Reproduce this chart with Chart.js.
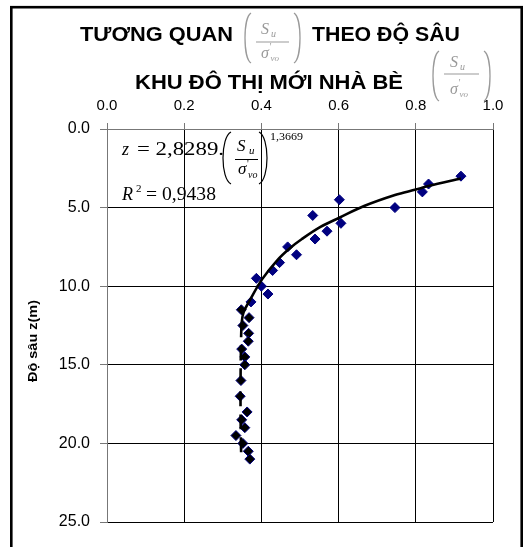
<!DOCTYPE html>
<html><head><meta charset="utf-8">
<script src="https://cdn.jsdelivr.net/npm/chart.js@4/dist/chart.umd.min.js"></script>
<style>html,body{margin:0;padding:0;background:#fff;}canvas{display:block;}</style>
</head><body>
<canvas id="c" width="525" height="547"></canvas>
<script>
// ---- data ----
const depths = [3.0,3.5,4.0,4.5,5.0,5.5,6.0,6.5,7.0,7.5,8.0,8.5,9.0,9.5,10.0,10.5,11.0,11.5,12.0,12.5,13.0,13.5,14.0,14.5,15.0,16.0,17.0,18.0,18.5,19.0,19.5,20.0,20.5,21.0];
const ratios = [0.917,0.833,0.817,0.602,0.746,0.533,0.606,0.570,0.539,0.468,0.491,0.447,0.429,0.387,0.400,0.417,0.373,0.348,0.368,0.352,0.367,0.366,0.349,0.357,0.357,0.347,0.345,0.363,0.349,0.357,0.334,0.352,0.366,0.370];
const trendDepths = [3.15,3.63,3.85,4.2,4.9,5.63,6.23,7.0,7.6,8.35,9.55,10.85,11.65,12.3,14.0,16.0,18.0,20.0,21.0];
const trendRatios = [0.917,0.833,0.800,0.746,0.666,0.603,0.553,0.505,0.473,0.441,0.402,0.371,0.354,0.349,0.347,0.346,0.346,0.347,0.348];
const xTicks = [0.0,0.2,0.4,0.6,0.8,1.0];
const yTicks = [0,5,10,15,20,25];
const titleA = 'TƯƠNG QUAN';
const titleB = 'THEO ĐỘ SÂU';
const titleC = 'KHU ĐÔ THỊ MỚI NHÀ BÈ';
const yAxisTitle = 'Độ sâu z(m)';
const eqCoef = '2,8289';
const eqExp = '1,3669';
const eqR2 = '0,9438';

const SANS = '"Liberation Sans", Arial, sans-serif';
const SERIF = '"Liberation Serif", "Times New Roman", serif';

function fitText(ctx, text, x, y, w, font, color) {
  ctx.save();
  ctx.font = font; ctx.fillStyle = color;
  ctx.textAlign = 'left'; ctx.textBaseline = 'alphabetic';
  const m = ctx.measureText(text).width;
  ctx.translate(x, y);
  if (w) ctx.scale(w / m, 1);
  ctx.fillText(text, 0, 0);
  ctx.restore();
}
function paren(ctx, x1, x2, top, bot, isLeft, color, lw) {
  ctx.save();
  ctx.strokeStyle = color; ctx.lineWidth = lw; ctx.beginPath();
  const h = bot - top;
  if (isLeft) {
    const c = (x1 - 0.25 * x2) / 0.75;
    ctx.moveTo(x2, top);
    ctx.bezierCurveTo(c, top + h * 0.1, c, bot - h * 0.1, x2, bot);
  } else {
    const c = (x2 - 0.25 * x1) / 0.75;
    ctx.moveTo(x1, top);
    ctx.bezierCurveTo(c, top + h * 0.1, c, bot - h * 0.1, x1, bot);
  }
  ctx.stroke(); ctx.restore();
}
function hline(ctx, x1, x2, y, color, lw) {
  ctx.save(); ctx.strokeStyle = color; ctx.lineWidth = lw;
  ctx.beginPath(); ctx.moveTo(x1, y); ctx.lineTo(x2, y); ctx.stroke(); ctx.restore();
}
function ratioFrac(ctx, o, color) {
  paren(ctx, o.l, o.l + 6, o.top, o.bot, true, color, 1.3);
  paren(ctx, o.r - 6, o.r, o.top, o.bot, false, color, 1.3);
  fitText(ctx, 'S', o.sx, o.sy, 0, 'italic ' + o.size + 'px ' + SERIF, color);
  fitText(ctx, 'u', o.sx + o.size * 0.62, o.sy + 3, 0, 'italic ' + Math.round(o.size * 0.6) + 'px ' + SERIF, color);
  hline(ctx, o.l + 11, o.r - 11, o.lineY, color, 1.2);
  fitText(ctx, 'σ', o.gx, o.gy, 0, 'italic ' + o.size + 'px ' + SERIF, color);
  fitText(ctx, "'", o.gx + o.size * 0.55, o.gy - 8, 0, Math.round(o.size * 0.6) + 'px ' + SERIF, color);
  fitText(ctx, 'vo', o.gx + o.size * 0.6, o.gy + 3, 0, 'italic ' + Math.round(o.size * 0.55) + 'px ' + SERIF, color);
}

const decor = {
  id: 'decor',
  beforeDraw(chart) {
    const ctx = chart.ctx;
    ctx.save(); ctx.fillStyle = '#fff'; ctx.fillRect(0, 0, chart.width, chart.height); ctx.restore();
  },
  afterDraw(chart) {
    const ctx = chart.ctx;
    const tf = 'bold 20px ' + SANS;
    fitText(ctx, titleA, 80, 40.5, 153, tf, '#000');
    fitText(ctx, titleB, 312, 40.5, 148, tf, '#000');
    fitText(ctx, titleC, 135, 89, 268, tf, '#000');
    const gray = '#9a9a9a';
    ratioFrac(ctx, {l:245, r:300, top:13, bot:63, sx:261, sy:34, lineY:42, gx:261, gy:58, size:16}, gray);
    ratioFrac(ctx, {l:433, r:490, top:51, bot:101, sx:450, sy:67, lineY:74, gx:450, gy:94, size:16}, gray);

    ctx.save();
    ctx.font = 'bold 13px ' + SANS; ctx.fillStyle = '#000';
    ctx.textAlign = 'center'; ctx.textBaseline = 'middle';
    const m = ctx.measureText(yAxisTitle).width;
    ctx.translate(33, 341); ctx.rotate(-Math.PI / 2); ctx.scale(82 / m, 1);
    ctx.fillText(yAxisTitle, 0, 0);
    ctx.restore();

    fitText(ctx, 'z', 122, 155, 0, 'italic 18px ' + SERIF, '#000');
    fitText(ctx, '= ' + eqCoef + '.', 137, 155, 87, '18px ' + SERIF, '#000');
    paren(ctx, 223, 231, 132, 184, true, '#000', 1.2);
    paren(ctx, 259, 267, 132, 184, false, '#000', 1.2);
    fitText(ctx, 'S', 237, 151, 0, 'italic 17px ' + SERIF, '#000');
    fitText(ctx, 'u', 249, 154, 0, 'italic 11px ' + SERIF, '#000');
    hline(ctx, 235, 258, 159.5, '#000', 1);
    fitText(ctx, 'σ', 238, 174, 0, 'italic 17px ' + SERIF, '#000');
    fitText(ctx, "'", 247, 167, 0, '10px ' + SERIF, '#000');
    fitText(ctx, 'vo', 248, 178, 0, 'italic 10px ' + SERIF, '#000');
    fitText(ctx, eqExp, 270, 140, 33, '11px ' + SERIF, '#000');
    fitText(ctx, 'R', 122, 200, 0, 'italic 18px ' + SERIF, '#000');
    fitText(ctx, '2', 136, 192, 0, '11px ' + SERIF, '#000');
    fitText(ctx, '= ' + eqR2, 146, 200, 70, '18px ' + SERIF, '#000');

    ctx.save(); ctx.strokeStyle = '#000'; ctx.lineWidth = 2.6;
    ctx.strokeRect(11.3, 7.2, 510.4, 560); ctx.restore();
  }
};

new Chart(document.getElementById('c').getContext('2d'), {
  type: 'scatter',
  data: {
    datasets: [
      {
        type: 'line', label: 'trend', showLine: true,
        data: trendRatios.map((x, i) => ({x, y: trendDepths[i]})),
        borderColor: '#000', borderWidth: 2.6, pointRadius: 0, fill: false, tension: 0.35, order: 0,
        segment: { borderDash: c => (c.p0.parsed.y >= 12 ? [15, 8] : undefined) }
      },
      {
        label: 'data',
        data: ratios.map((x, i) => ({x, y: depths[i]})),
        pointStyle: 'rectRot', pointRadius: 5, borderWidth: 1,
        backgroundColor: c => (depths[c.dataIndex] >= 11.5 ? '#000' : '#000080'),
        borderColor: '#000080', order: 1
      }
    ]
  },
  options: {
    responsive: false, animation: false, devicePixelRatio: 1,
    layout: { padding: { left: 0, top: 0, right: 32, bottom: 25 } },
    plugins: { legend: { display: false }, tooltip: { enabled: false }, title: { display: false } },
    scales: {
      x: {
        type: 'linear', position: 'top', min: 0, max: 1,
        afterBuildTicks: s => { s.ticks = xTicks.map(v => ({value: v})); },
        ticks: { callback: v => Number(v).toFixed(1), color: '#000', font: { family: SANS, size: 15 }, padding: 8, maxRotation: 0, autoSkip: false },
        grid: { color: c => (c.tick && c.tick.value === 0 ? '#777' : '#000'), tickLength: 6, tickColor: '#777', lineWidth: 1 },
        border: { color: '#777' },
        afterFit: s => { s.height = 129; }
      },
      y: {
        type: 'linear', reverse: true, min: 0, max: 25,
        afterBuildTicks: s => { s.ticks = yTicks.map(v => ({value: v})); },
        ticks: { callback: v => Number(v).toFixed(1), color: '#000', font: { family: SANS, size: 16 }, padding: 10, autoSkip: false },
        grid: { color: c => (c.tick && c.tick.value === 0 ? '#777' : '#000'), tickLength: 7, tickColor: '#777', lineWidth: 1 },
        border: { color: '#777' },
        afterFit: s => { s.width = 107; }
      }
    }
  },
  plugins: [decor]
});
</script>
</body></html>
